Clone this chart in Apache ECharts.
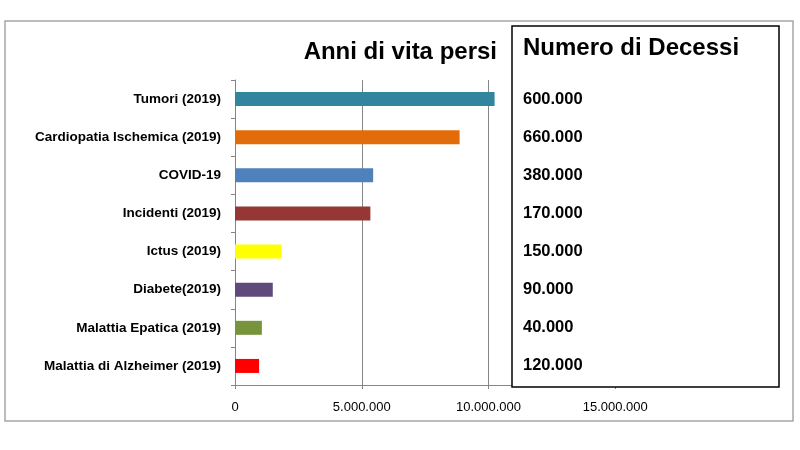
<!DOCTYPE html>
<html>
<head>
<meta charset="utf-8">
<script src="https://cdn.jsdelivr.net/npm/echarts@6/dist/echarts.min.js"></script>
<style>
  html, body { margin: 0; padding: 0; background: #fff; }
  #chart { width: 800px; height: 450px; }
</style>
</head>
<body>
<div id="chart"></div>
<script>
// categories, top to bottom
var categories = [
    'Tumori (2019)',
    'Cardiopatia Ischemica (2019)',
    'COVID-19',
    'Incidenti (2019)',
    'Ictus (2019)',
    'Diabete(2019)',
    'Malattia Epatica (2019)',
    'Malattia di Alzheimer (2019)'
];
// anni di vita persi
var yearsLost = [10240000, 8860000, 5450000, 5340000, 1840000, 1490000, 1060000, 950000];
// numero di decessi (text column)
var deaths = ['600.000', '660.000', '380.000', '170.000', '150.000', '90.000', '40.000', '120.000'];
var barColors = ['#31859C', '#E36C0A', '#4F81BD', '#953735', '#FFFF00', '#604A7B', '#77933C', '#FF0000'];
// x axis: range and the ticks that show outside the box
var xMin = 0, xMax = 20000000, xStep = 5000000;
var xTickValues = [0, 5000000, 10000000, 15000000];

var FONT = 'Liberation Sans';

function fmtIt(v) {
    return String(v).replace(/\B(?=(\d{3})+(?!\d))/g, '.');
}

var chart = echarts.init(document.getElementById('chart'));
var option = {
    backgroundColor: '#fff',
    animation: false,
    grid: { left: 235, right: 58, top: 80, bottom: 65, containLabel: false },
    xAxis: {
        type: 'value',
        min: xMin,
        max: xMax,
        interval: xStep,
        axisLine: { show: true, lineStyle: { color: '#868686', width: 1 } },
        axisTick: { show: true, length: 4, customValues: xTickValues, lineStyle: { color: '#868686' } },
        splitLine: { show: true, lineStyle: { color: '#868686', width: 1 } },
        axisLabel: {
            margin: 16,
            color: '#000',
            fontFamily: FONT,
            fontSize: 13,
            customValues: xTickValues,
            formatter: function (v) { return fmtIt(v); }
        }
    },
    yAxis: [
        {
            type: 'category',
            data: categories,
            inverse: true,
            axisLine: { show: true, lineStyle: { color: '#868686', width: 1 } },
            axisTick: { show: true, length: 4, lineStyle: { color: '#868686' } },
            axisLabel: {
                margin: 14,
                color: '#000',
                fontFamily: FONT,
                fontWeight: 'bold',
                fontSize: 13.5
            }
        },
        {
            type: 'category',
            data: deaths,
            inverse: true,
            position: 'right',
            offset: -227,
            z: 20,
            axisLine: { show: false },
            axisTick: { show: false },
            splitLine: { show: false },
            axisLabel: {
                margin: 8,
                color: '#000',
                fontFamily: FONT,
                fontWeight: 'bold',
                fontSize: 16.5
            }
        }
    ],
    graphic: [
        {
            type: 'rect',
            z: -1,
            shape: { x: 5, y: 21, width: 788, height: 400 },
            style: { fill: 'none', stroke: '#a6a6a6', lineWidth: 1.5 }
        },
        {
            type: 'rect',
            z: 10,
            shape: { x: 512, y: 26, width: 267, height: 361 },
            style: { fill: '#fff', stroke: '#000', lineWidth: 1.5 }
        },
        {
            type: 'text',
            z: 11,
            x: 523,
            y: 48,
            style: {
                text: 'Numero di Decessi',
                fill: '#000',
                font: 'bold 24px ' + FONT,
                textVerticalAlign: 'middle'
            }
        },
        {
            type: 'text',
            z: 11,
            x: 497,
            y: 52,
            style: {
                text: 'Anni di vita persi',
                fill: '#000',
                font: 'bold 24px ' + FONT,
                textAlign: 'right',
                textVerticalAlign: 'middle'
            }
        }
    ],
    series: [
        {
            type: 'bar',
            barWidth: 14,
            data: yearsLost.map(function (v, i) {
                return { value: v, itemStyle: { color: barColors[i] } };
            })
        }
    ]
};
chart.setOption(option);
</script>
</body>
</html>
